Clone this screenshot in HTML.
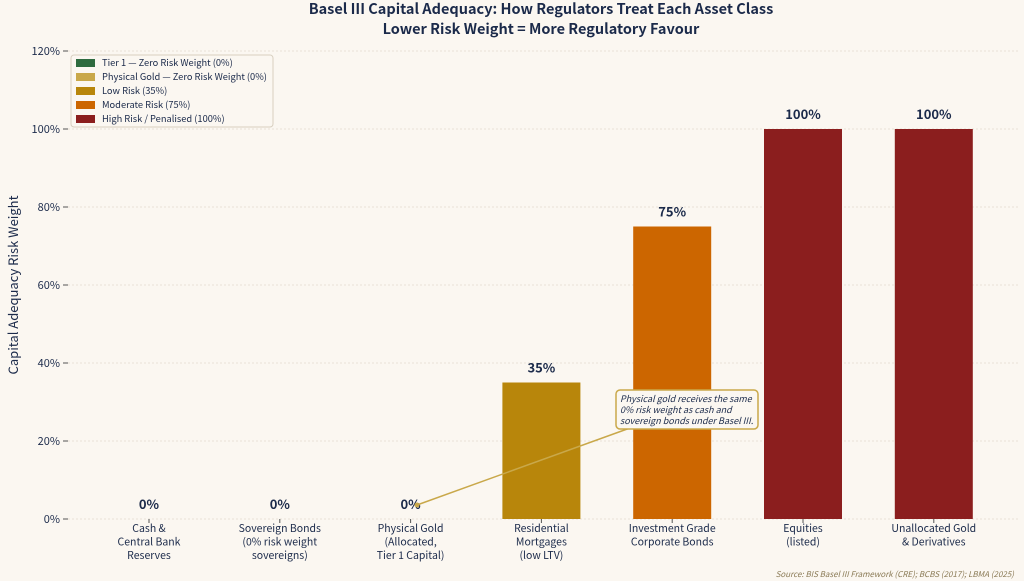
<!DOCTYPE html>
<html><head><meta charset="utf-8"><style>
html,body{margin:0;padding:0;background:#fbf7f1;}
svg{display:block;font-family:"Noto Sans CJK JP","Liberation Sans",sans-serif;}
</style></head><body>
<svg id="chart" width="1024" height="581" viewBox="0 0 1024 581">
<rect width="1024" height="581" fill="#fbf7f1"/>
<text x="541" y="14" text-anchor="middle" font-size="14.5" font-weight="bold" fill="#1b2a4a">Basel III Capital Adequacy: How Regulators Treat Each Asset Class</text>
<text x="541" y="34" text-anchor="middle" font-size="14.5" font-weight="bold" fill="#1b2a4a">Lower Risk Weight = More Regulatory Favour</text>
<text transform="translate(18,285) rotate(-90)" text-anchor="middle" font-size="13" fill="#1b2a4a">Capital Adequacy Risk Weight</text>
<g id="grid"></g><g id="bars"></g><g id="labels"></g>
<line x1="417" y1="505" x2="630" y2="428" stroke="#c9a84a" stroke-width="1.5"/>
<circle cx="417" cy="505" r="2.5" fill="#c9a84a"/>
<rect x="616" y="390" width="142" height="39" rx="4" fill="#fbf7f1" stroke="#c9a84a" stroke-width="1.5"/>
<g font-size="9" font-style="italic" fill="#1b2a4a">
<text x="620" y="402">Physical gold receives the same</text>
<text x="620" y="413">0% risk weight as cash and</text>
<text x="620" y="424">sovereign bonds under Basel III.</text>
</g>
<g>
<rect x="71" y="55" width="202" height="72" rx="3" fill="#fbf7f1" stroke="#d8cfc0"/>
<g id="legend" font-size="9.3" fill="#1b2a4a"></g>
</g>
<text x="1014" y="577" text-anchor="end" font-size="8" font-style="italic" fill="#8a7a55">Source: BIS Basel III Framework (CRE); BCBS (2017); LBMA (2025)</text>
</svg>
<script>
const categories=[["Cash &","Central Bank","Reserves"],["Sovereign Bonds","(0% risk weight","sovereigns)"],["Physical Gold","(Allocated,","Tier 1 Capital)"],["Residential","Mortgages","(low LTV)"],["Investment Grade","Corporate Bonds"],["Equities","(listed)"],["Unallocated Gold","& Derivatives"]];
const values=[0,0,0,35,75,100,100];
const colors=["#2e6b3f","#2e6b3f","#c9a84a","#b8860b","#cc6600","#8b1e1e","#8b1e1e"];
const yTicks=[0,20,40,60,80,100,120];
const legendLabels=["Tier 1 — Zero Risk Weight (0%)","Physical Gold — Zero Risk Weight (0%)","Low Risk (35%)","Moderate Risk (75%)","High Risk / Penalised (100%)"];
const legendColors=["#2e6b3f","#c9a84a","#b8860b","#cc6600","#8b1e1e"];
const NS="http://www.w3.org/2000/svg";
const y=v=>519-v*3.9;
const x=i=>149+i*130.8;
const bw=78;
function mk(t,a,p){const e=document.createElementNS(NS,t);for(const k in a)e.setAttribute(k,a[k]);p.appendChild(e);return e;}
const grid=document.getElementById('grid');
yTicks.forEach(t=>{
  const l=mk('line',{x1:68,x2:1018,y1:y(t),y2:y(t),stroke:'#d6cebf','stroke-dasharray':'2,2','stroke-width':0.6},grid);
  
  
  const tk=mk('line',{x1:63,x2:68,y1:y(t),y2:y(t),stroke:'#555'},grid);
  
  
  const tx=mk('text',{x:60,y:y(t)+4,'text-anchor':'end','font-size':11,fill:'#1b2a4a'},grid);
  tx.textContent=t+'%';
  
  
});
const bars=document.getElementById('bars'),labels=document.getElementById('labels');
values.forEach((v,i)=>{
  const r=mk('rect',{x:x(i)-bw/2,y:y(v),width:bw,height:519-y(v),fill:colors[i]},bars);
  
  
  const vl=mk('text',{x:x(i),y:y(v)-10,'text-anchor':'middle','font-size':13,'font-weight':'bold',fill:'#1b2a4a'},labels);
  vl.textContent=v+'%';
  
  
  const tk=mk('line',{x1:x(i),x2:x(i),y1:519,y2:523,stroke:'#555'},labels);
  
  
  categories[i].forEach((s,j)=>{
    const c=mk('text',{x:x(i),y:532+j*13.5,'text-anchor':'middle','font-size':10.5,fill:'#1b2a4a'},labels);
    c.textContent=s;
    
    
  });
});
const lg=document.getElementById('legend');
legendLabels.forEach((s,i)=>{
  const r=mk('rect',{x:76,y:59+i*14,width:19,height:8,fill:legendColors[i]},lg);
  
  
  const t=mk('text',{x:102,y:66+i*14},lg);
  t.textContent=s;
  
  
});
</script>
</body></html>
